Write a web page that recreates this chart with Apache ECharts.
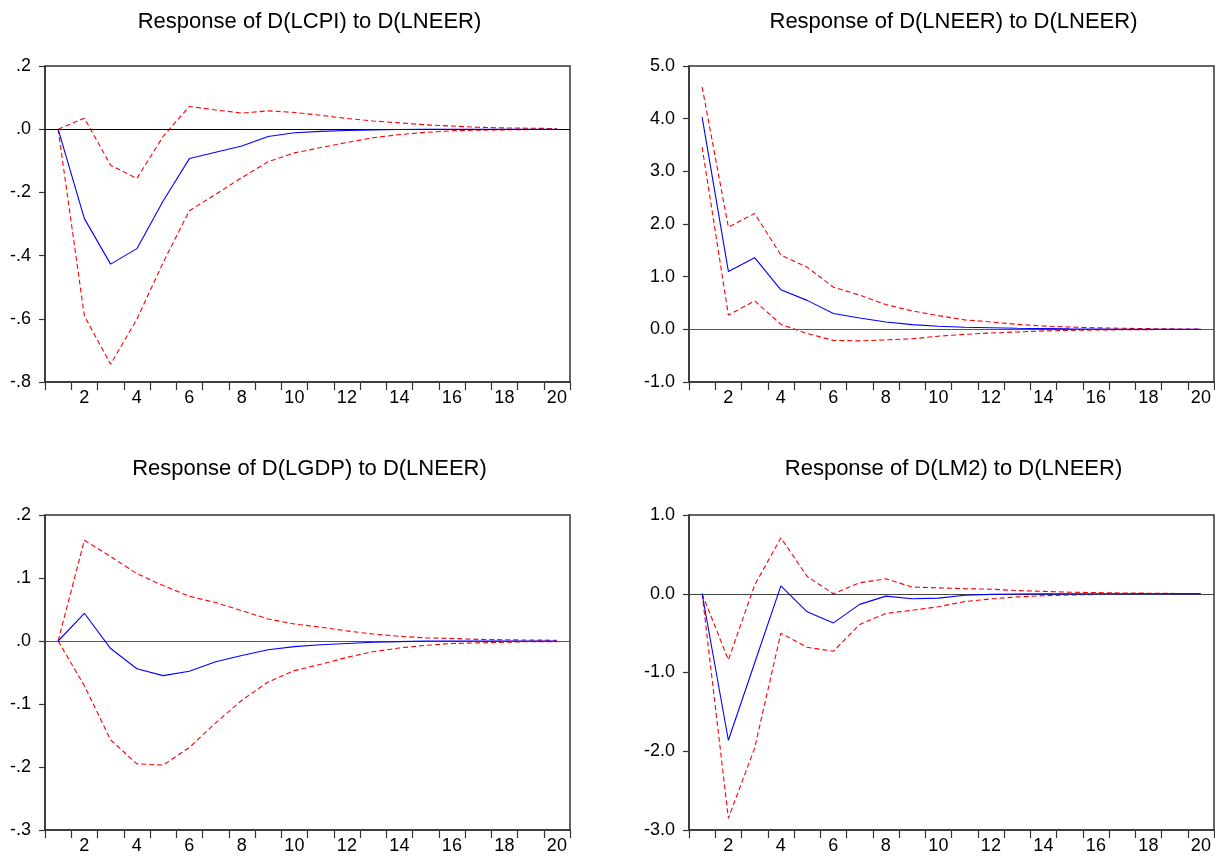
<!DOCTYPE html>
<html>
<head>
<meta charset="utf-8">
<script src="https://cdn.jsdelivr.net/npm/echarts@6/dist/echarts.min.js"></script>
<style>
html,body{margin:0;padding:0;background:#fff;}
#chart{width:1215px;height:856px;}
</style>
</head>
<body>
<div id="chart"></div>
<script>
// ---- data ----
const periods = ['1','2','3','4','5','6','7','8','9','10','11','12','13','14','15','16','17','18','19','20'];

const titles = [
  'Response of D(LCPI) to D(LNEER)',
  'Response of D(LNEER) to D(LNEER)',
  'Response of D(LGDP) to D(LNEER)',
  'Response of D(LM2) to D(LNEER)'
];

// Panel 1: D(LCPI)
const lcpiResp  = [0, -0.283, -0.427, -0.378, -0.227, -0.093, -0.073, -0.053, -0.023, -0.011, -0.007, -0.004, -0.002, -0.001, 0, 0, 0, 0, 0, 0];
const lcpiUpper = [0, 0.035, -0.114, -0.156, -0.023, 0.072, 0.061, 0.051, 0.058, 0.053, 0.044, 0.034, 0.026, 0.020, 0.014, 0.010, 0.006, 0.004, 0.003, 0.002];
const lcpiLower = [0, -0.591, -0.744, -0.601, -0.422, -0.258, -0.206, -0.153, -0.103, -0.075, -0.058, -0.042, -0.027, -0.017, -0.010, -0.005, -0.003, -0.002, -0.001, -0.001];

// Panel 2: D(LNEER)
const lneerResp  = [4.03, 1.10, 1.36, 0.75, 0.55, 0.30, 0.215, 0.14, 0.09, 0.058, 0.04, 0.03, 0.02, 0.013, 0.008, 0.005, 0.003, 0.002, 0.001, 0.001];
const lneerUpper = [4.60, 1.94, 2.20, 1.41, 1.18, 0.80, 0.65, 0.47, 0.35, 0.26, 0.18, 0.14, 0.095, 0.063, 0.044, 0.03, 0.02, 0.013, 0.008, 0.005];
const lneerLower = [3.46, 0.27, 0.54, 0.095, -0.08, -0.21, -0.22, -0.20, -0.18, -0.13, -0.095, -0.07, -0.05, -0.03, -0.02, -0.012, -0.008, -0.005, -0.003, -0.002];

// Panel 3: D(LGDP)
const lgdpResp  = [0, 0.044, -0.012, -0.044, -0.055, -0.048, -0.033, -0.023, -0.014, -0.009, -0.006, -0.004, -0.002, -0.001, 0, 0, 0, 0, 0, 0];
const lgdpUpper = [0, 0.160, 0.134, 0.107, 0.088, 0.071, 0.061, 0.048, 0.035, 0.027, 0.022, 0.016, 0.011, 0.0075, 0.005, 0.004, 0.0026, 0.002, 0.0015, 0.0012];
const lgdpLower = [0, -0.071, -0.157, -0.195, -0.197, -0.169, -0.130, -0.094, -0.065, -0.047, -0.037, -0.026, -0.017, -0.011, -0.007, -0.004, -0.003, -0.002, -0.001, -0.001];

// Panel 4: D(LM2)
const lm2Resp  = [0, -1.86, -0.88, 0.10, -0.23, -0.37, -0.135, -0.03, -0.064, -0.055, -0.02, -0.008, -0.004, -0.002, -0.001, 0, 0, 0, 0, 0];
const lm2Upper = [0, -0.84, 0.11, 0.71, 0.22, 0.00, 0.14, 0.19, 0.085, 0.075, 0.065, 0.058, 0.04, 0.03, 0.02, 0.015, 0.01, 0.007, 0.004, 0.003];
const lm2Lower = [0, -2.85, -1.96, -0.50, -0.68, -0.73, -0.39, -0.25, -0.21, -0.165, -0.10, -0.065, -0.04, -0.025, -0.015, -0.01, -0.006, -0.004, -0.002, -0.001];

// y axis settings (tick labels)
const yMins = [-0.8, -1, -0.3, -3];
const yMaxs = [0.2, 5, 0.2, 1];
const yIntervals = [0.2, 1, 0.1, 1];
const yLeadingZero = [false, true, false, true];

// ---- chart ----
const FONT = '"Liberation Sans", Arial, sans-serif';
const grids = [
  {left: 45, top: 66, width: 525, height: 316},
  {left: 689, top: 66, width: 525, height: 316},
  {left: 45, top: 515, width: 525, height: 315},
  {left: 689, top: 515, width: 525, height: 315}
];
const resp = [lcpiResp, lneerResp, lgdpResp, lm2Resp];
const upper = [lcpiUpper, lneerUpper, lgdpUpper, lm2Upper];
const lower = [lcpiLower, lneerLower, lgdpLower, lm2Lower];
const zeroColors = ['#000', '#555', '#555', '#444'];

function fmt(i) {
  return function (v) {
    let s = (Math.round(v * 10) / 10).toFixed(1);
    if (s === '-0.0') s = '0.0';
    if (!yLeadingZero[i]) s = s.replace('0.', '.');
    return s;
  };
}

const option = {
  animation: false,
  backgroundColor: '#fff',
  title: titles.map((t, i) => ({
    text: t,
    left: grids[i].left + grids[i].width / 2 - 3,
    top: i < 2 ? 6 : 453,
    textAlign: 'center',
    textStyle: {fontFamily: FONT, fontSize: 22, fontWeight: 'normal', color: '#000'}
  })),
  grid: grids.map(g => Object.assign({
    show: true, borderColor: '#333', borderWidth: 1.5, backgroundColor: 'transparent', containLabel: false
  }, g)),
  xAxis: grids.map((g, i) => ({
    type: 'category',
    gridIndex: i,
    data: periods,
    boundaryGap: true,
    axisLine: {onZero: false, lineStyle: {color: '#333', width: 1.5}},
    axisTick: {show: true, interval: 0, length: 8, inside: false, lineStyle: {color: '#333', width: 1.2}},
    axisLabel: {
      interval: function (idx) { return idx % 2 === 1; },
      margin: 7, fontFamily: FONT, fontSize: 18, color: '#000'
    },
    splitLine: {show: false}
  })),
  yAxis: grids.map((g, i) => ({
    type: 'value',
    gridIndex: i,
    min: yMins[i], max: yMaxs[i], interval: yIntervals[i],
    axisLine: {show: true, onZero: false, lineStyle: {color: '#333', width: 1.5}},
    axisTick: {show: true, length: 6, inside: false, lineStyle: {color: '#333', width: 1.2}},
    axisLabel: {formatter: fmt(i), margin: 14, fontFamily: FONT, fontSize: 18, color: '#000'},
    splitLine: {show: false}
  })),
  series: []
};

for (let i = 0; i < 4; i++) {
  option.series.push({
    type: 'line', xAxisIndex: i, yAxisIndex: i, data: resp[i],
    symbol: 'none', lineStyle: {color: '#0000ff', width: 1.1}, z: 5,
    markLine: {
      silent: true, symbol: 'none', label: {show: false},
      lineStyle: {color: zeroColors[i], width: 1, type: 'solid'},
      data: [{yAxis: 0}]
    }
  });
  option.series.push({
    type: 'line', xAxisIndex: i, yAxisIndex: i, data: upper[i],
    symbol: 'none', lineStyle: {color: '#ff0000', width: 1.1, type: [5, 3]}, z: 4
  });
  option.series.push({
    type: 'line', xAxisIndex: i, yAxisIndex: i, data: lower[i],
    symbol: 'none', lineStyle: {color: '#ff0000', width: 1.1, type: [5, 3]}, z: 4
  });
}

const chart = echarts.init(document.getElementById('chart'), null, {renderer: 'canvas'});
chart.setOption(option);
</script>
</body>
</html>
